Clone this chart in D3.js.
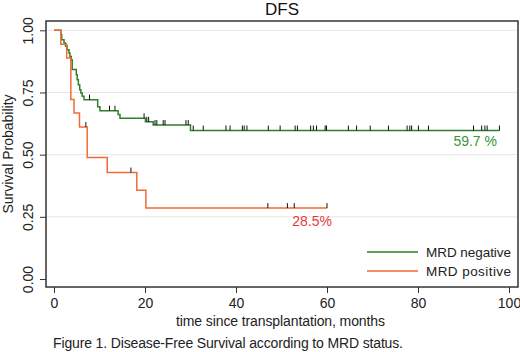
<!DOCTYPE html>
<html>
<head>
<meta charset="utf-8">
<script src="https://cdn.jsdelivr.net/npm/d3@7"></script>
<style>
  body { margin: 0; background: #fff; }
  svg { display: block; font-family: "Liberation Sans", Arial, sans-serif; }
  .axis text { font-size: 14px; fill: #222; }
  .axis line { stroke: #333; }
</style>
</head>
<body>
<div id="chart"></div>
<script>
// MRD negative: step times (months) and survival after each step
const negTimes = [1.5, 1.7, 2.2, 2.55, 2.9, 3.3, 3.5, 3.8, 4.0, 4.9, 5.1, 5.35, 5.65, 5.9, 6.2, 6.6, 9.6, 10.1, 14.1, 14.5, 20.1, 21.8, 30.0];
const negSurv = [0.982, 0.962, 0.949, 0.936, 0.922, 0.909, 0.895, 0.882, 0.842, 0.821, 0.801, 0.781, 0.761, 0.748, 0.735, 0.721, 0.693, 0.677, 0.661, 0.646, 0.632, 0.619, 0.597];
const negCensor = [7.8, 12.2, 13.4, 19.8, 20.4, 20.8, 22.2, 22.6, 24.0, 24.4, 29.0, 29.5, 30.6, 32.8, 37.8, 38.7, 41.4, 41.8, 42.4, 47.1, 49.7, 53.0, 53.5, 56.4, 57.0, 57.7, 59.6, 59.9, 64.7, 66.5, 69.5, 73.5, 77.6, 78.2, 78.6, 80.1, 82.3, 92.2, 94.0, 94.7, 95.2, 97.9];
const negEnd = 97.9;

// MRD positive
const posTimes = [1.5, 2.8, 3.7, 4.4, 5.6, 7.3, 11.7, 18.2, 20.2];
const posSurv = [0.944, 0.889, 0.722, 0.667, 0.611, 0.489, 0.428, 0.357, 0.285];
const posCensor = [7.0, 16.9, 47.0, 51.3, 52.8, 60.0];
const posEnd = 60;

const yTicks = [0, 0.25, 0.5, 0.75, 1];
const xTicks = [0, 20, 40, 60, 80, 100];

const width = 520, height = 352;
const box = {left: 46, top: 21, right: 518, bottom: 287};

const svg = d3.select('#chart').append('svg')
    .attr('width', width)
    .attr('height', height);

const x = d3.scaleLinear().domain([0, 100]).range([54, 509]);
const y = d3.scaleLinear().domain([0, 1]).range([279, 30.3]);

// gridlines
svg.append('g')
    .selectAll('line')
    .data(yTicks.filter(d => d > 0))
    .enter().append('line')
    .attr('x1', box.left).attr('x2', box.right)
    .attr('y1', d => y(d)).attr('y2', d => y(d))
    .attr('stroke', '#e6e6e6')
    .attr('stroke-width', 1);

// build step data
function stepData(times, surv, end) {
    const pts = [{t: 0, s: 1}];
    times.forEach((t, i) => pts.push({t: t, s: surv[i]}));
    pts.push({t: end, s: surv[surv.length - 1]});
    return pts;
}
function survAt(times, surv, t) {
    const i = d3.bisectRight(times, t);
    return i === 0 ? 1 : surv[i - 1];
}

const line = d3.line()
    .x(d => x(d.t))
    .y(d => y(d.s))
    .curve(d3.curveStepAfter);

const groups = [
    {times: negTimes, surv: negSurv, censor: negCensor, end: negEnd, color: '#2f7f2f'},
    {times: posTimes, surv: posSurv, censor: posCensor, end: posEnd, color: '#f26a35'}
];

groups.forEach(g => {
    svg.append('path')
        .datum(stepData(g.times, g.surv, g.end))
        .attr('fill', 'none')
        .attr('stroke', g.color)
        .attr('stroke-width', 1.5)
        .attr('d', line);

    svg.append('g')
        .selectAll('line')
        .data(g.censor)
        .enter().append('line')
        .attr('x1', d => x(d)).attr('x2', d => x(d))
        .attr('y1', d => y(survAt(g.times, g.surv, d)))
        .attr('y2', d => y(survAt(g.times, g.surv, d)) - 5)
        .attr('stroke', '#111')
        .attr('stroke-width', 1);
});

// frame
svg.append('rect')
    .attr('x', box.left).attr('y', box.top)
    .attr('width', box.right - box.left)
    .attr('height', box.bottom - box.top)
    .attr('fill', 'none')
    .attr('stroke', '#333')
    .attr('stroke-width', 1.5);

// axes
const yAxis = svg.append('g')
    .attr('class', 'axis')
    .attr('transform', `translate(${box.left},0)`)
    .call(d3.axisLeft(y).tickValues(yTicks).tickFormat(d3.format('.2f')).tickSize(6).tickPadding(4));
yAxis.select('.domain').remove();
yAxis.selectAll('text')
    .attr('x', 0).attr('dy', 0)
    .attr('text-anchor', 'middle')
    .attr('transform', 'translate(-13,0) rotate(-90)');

const xAxis = svg.append('g')
    .attr('class', 'axis')
    .attr('transform', `translate(0,${box.bottom})`)
    .call(d3.axisBottom(x).tickValues(xTicks).tickSize(6).tickPadding(5));
xAxis.select('.domain').remove();

// titles
svg.append('text')
    .attr('x', 282).attr('y', 15)
    .attr('text-anchor', 'middle')
    .attr('font-size', 17)
    .attr('fill', '#111')
    .text('DFS');

svg.append('text')
    .attr('transform', 'translate(13,154) rotate(-90)')
    .attr('text-anchor', 'middle')
    .attr('font-size', 14)
    .attr('fill', '#222')
    .text('Survival Probability');

svg.append('text')
    .attr('x', 176).attr('y', 326)
    .attr('font-size', 14)
    .attr('fill', '#222')
    .attr('textLength', 209)
    .attr('lengthAdjust', 'spacing')
    .text('time since transplantation, months');

svg.append('text')
    .attr('x', 53).attr('y', 348)
    .attr('font-size', 14)
    .attr('fill', '#222')
    .attr('textLength', 350)
    .attr('lengthAdjust', 'spacing')
    .text('Figure 1. Disease-Free Survival according to MRD status.');

// end labels
svg.append('text')
    .attr('x', 497).attr('y', 146)
    .attr('text-anchor', 'end')
    .attr('font-size', 14)
    .attr('fill', '#3a963a')
    .text('59.7 %');

svg.append('text')
    .attr('x', 332).attr('y', 226)
    .attr('text-anchor', 'end')
    .attr('font-size', 14)
    .attr('fill', '#e8383d')
    .text('28.5%');

// legend
const legend = [
    {label: 'MRD negative', color: '#2f7f2f', y: 252},
    {label: 'MRD positive', color: '#f26a35', y: 271}
];
legend.forEach(l => {
    svg.append('line')
        .attr('x1', 367).attr('x2', 418)
        .attr('y1', l.y).attr('y2', l.y)
        .attr('stroke', l.color)
        .attr('stroke-width', 1.5);
    svg.append('text')
        .attr('x', 426).attr('y', l.y + 5)
        .attr('font-size', 13.5)
        .attr('fill', '#222')
        .attr('textLength', 85)
        .attr('lengthAdjust', 'spacing')
        .text(l.label);
});
</script>
</body>
</html>
